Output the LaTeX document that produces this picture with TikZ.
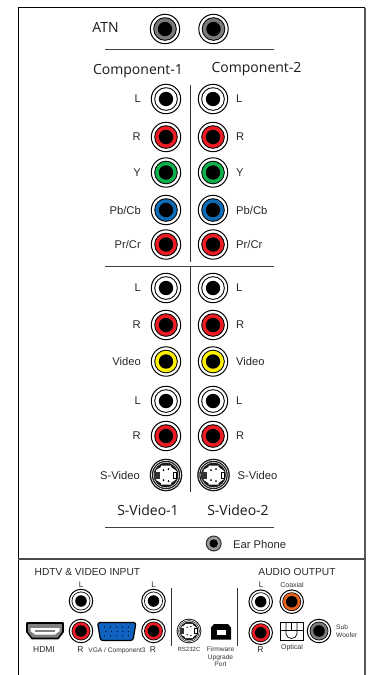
\documentclass[tikz,border=0pt]{standalone}
\usepackage{fontspec}
\setmainfont{Liberation Sans}
\newfontfamily\myr{Open Sans}
\definecolor{jred}{HTML}{ED1C24}
\definecolor{jgreen}{HTML}{0DB14B}
\definecolor{jblue}{HTML}{0F6DB8}
\definecolor{jyellow}{HTML}{FFF200}
\definecolor{jorange}{HTML}{E8601C}
\definecolor{jgray}{HTML}{7A7A7A}
\definecolor{vgablue}{HTML}{0F62C0}
\tikzset{
  lab/.style={font=\fontsize{11.2}{11.2}\selectfont,inner sep=0pt,text=black!85},
  title/.style={font=\myr\fontsize{14}{14}\selectfont,inner sep=0pt,text=black!90},
  head/.style={font=\fontsize{10.2}{10.2}\selectfont,inner sep=0pt,text=black!85},
  tiny/.style={font=\fontsize{6.6}{7.2}\selectfont,inner sep=0pt,text=black!80,align=center},
  rulem/.style={line width=0.9pt,black!75},
}
% x, y, ring colour, scale
\newcommand\jack[4]{%
  \begin{scope}[shift={(#1,#2)},scale=#4]
    \filldraw[fill=white,draw=black,line width=1pt] (0,0) circle (14.7);
    \fill[black] (0,0) circle (11.8);
    \fill[#3] (0,0) circle (10.8);
    \fill[black] (0,0) circle (7.2);
  \end{scope}}
% x, y, flip, scale
\newcommand\svideo[4]{%
  \begin{scope}[shift={(#1,#2)},xscale=#3*#4,yscale=#4]
    \fill[black!90] (0,0) circle (16.3);
    \draw[white,line width=0.6pt] (0,0) circle (14.6);
    \draw[white,line width=0.5pt] (0,0) circle (12.8);
    \fill[white] (-5,9.5) -- (5,9.5) -- (5,8) -- (10.5,4) -- (10.5,-4) -- (5,-8) -- (5,-9.5) -- (-5,-9.5) -- (-5,-8) -- (-10,-5) -- (-10,5) -- (-5,8) -- cycle;
    \fill[black!80] (-12.5,-3.5) rectangle (-6.5,3.5);
    \draw[black,line width=0.6pt,fill=white] (7.5,-3) rectangle (10.5,3);
    \fill[black] (-2.5,5) circle (1) (2.5,6) circle (1) (-2.5,-5) circle (1) (2.5,-6) circle (1);
  \end{scope}}
\begin{document}
\begin{tikzpicture}[x=1pt,y=-1pt]
\useasboundingbox (0,0) rectangle (368,675);
% frame
\draw[line width=1.6pt,black] (18.5,675) -- (18.5,7.5) -- (365,7.5);
\draw[line width=2.2pt,black!65] (365,7.5) -- (365,675);
\draw[line width=2.6pt,black!70] (18,559) -- (366,559);
% rules
\draw[rulem] (105,49) -- (274,49);
\draw[rulem] (105,266) -- (274,266);
\draw[rulem] (105,527) -- (274,527);
\draw[line width=0.9pt,black!80] (190.7,85) -- (190.7,262);
\draw[line width=0.9pt,black!80] (190.7,267) -- (190.7,492);
\draw[line width=0.9pt,black!80] (171,588) -- (171,646);
\draw[line width=0.9pt,black!80] (237.7,588) -- (237.7,646);
% titles
\node[title] (atn) at (105.5,27.5) {ATN};
\node[title] (c1) at (138,71) {Component-1};
\node[title] (c2) at (256.5,69.5) {Component-2};
\node[title] (s1) at (148,510) {S-Video-1};
\node[title] (s2) at (238,510) {S-Video-2};
% ATN
\jack{165}{29}{jgray}{1}
\jack{213.5}{29}{jgray}{1}
% rows
\foreach \yy/\cc/\tt in {99/white/L,137/jred/R,172.5/jgreen/Y,210/jblue/Pb\slash Cb,244.5/jred/Pr\slash Cr,288/white/L,325/jred/R,361.5/jyellow/Video,401/white/L,436/jred/R}{
  \jack{166}{\yy}{\cc}{1}
  \jack{213}{\yy}{\cc}{1}
  \node[lab,anchor=east] at (141,\yy) {\tt};
  \node[lab,anchor=west] at (236,\yy) {\tt};
}
\svideo{166}{475}{1}{1}
\svideo{213.5}{475}{1}{1}
\node[lab,anchor=east] (svl) at (140,475) {S-Video};
\node[lab,anchor=west] (svr) at (237.5,475) {S-Video};
% ear phone
\begin{scope}[shift={(213.7,543.5)}]
  \fill[black!80] (0,0) circle (8);
  \fill[black!40] (0,0) circle (6.8);
  \fill[black] (0,0) circle (4.2);
\end{scope}
\node[lab,anchor=west] (ear) at (233,544) {Ear Phone};
% bottom headings
\node[head,anchor=west] (hd) at (34.5,572) {HDTV \& VIDEO INPUT};
\node[head] (ao) at (297,572) {AUDIO OUTPUT};
% inputs
\node[lab,font=\fontsize{8}{8}\selectfont] (l1) at (81,585) {L};
\node[lab,font=\fontsize{8}{8}\selectfont] (l2) at (153.5,585) {L};
\jack{81}{601}{white}{0.8}
\jack{153.5}{601}{white}{0.8}
\jack{81}{631}{jred}{0.8}
\jack{153.5}{631}{jred}{0.8}
\node[lab,font=\fontsize{8.5}{8.5}\selectfont] (hdmi) at (44,650) {HDMI};
\node[lab,font=\fontsize{8.5}{8.5}\selectfont] (r1) at (80.5,650) {R};
\node[lab,font=\fontsize{8.5}{8.5}\selectfont] (r2) at (153,650) {R};
\node[tiny] (vga) at (117,651) {VGA / Component3};
% HDMI connector
\filldraw[fill=black!50,draw=black,line width=1.6pt,line join=round] (27,623) -- (63,623) -- (63,632) -- (58,638.5) -- (32,638.5) -- (27,632) -- cycle;
\fill[white] (30.5,628) -- (59.5,628) -- (59.5,631) -- (55,634.5) -- (35,634.5) -- (30.5,631) -- cycle;
\fill[black!50] (35,629.5) rectangle (55,631.5);
% VGA connector
\filldraw[fill=vgablue,draw=black,line width=1.2pt,rounded corners=2.5pt] (97.5,622.5) -- (136,622.5) -- (133,640.5) -- (100.5,640.5) -- cycle;
\foreach \i in {0,...,4}{\fill[black] (104.5+\i*6,627) circle (.6); \fill[black] (104.5+\i*6,636) circle (.6);\fill[black] (106+\i*5.6,631.5) circle (.6);}
% RS232C
\svideo{189}{631}{1}{0.76}
\node[tiny,font=\fontsize{6}{6}\selectfont] (rs) at (189,649.5) {RS232C};
% USB
\fill[black] (214,624) -- (228,624) -- (231,627.5) -- (231,639.5) -- (211,639.5) -- (211,627.5) -- cycle;
\fill[white] (216.5,629.5) rectangle (225.5,634.5);
\node[tiny,anchor=north,font=\fontsize{6.6}{7.2}\selectfont] (fw) at (220.5,647) {Firmware\\Upgrade\\Port};
% audio
\node[lab,font=\fontsize{8}{8}\selectfont] (l3) at (261,585) {L};
\node[tiny,font=\fontsize{7}{7}\selectfont] (coax) at (292,585) {Coaxial};
\jack{260.7}{601.7}{white}{0.8}
\jack{291.7}{601.7}{jorange}{0.8}
\jack{260.7}{632.7}{jred}{0.8}
\node[lab,font=\fontsize{8.5}{8.5}\selectfont] (r3) at (260.5,650) {R};
\node[tiny,font=\fontsize{7}{7}\selectfont] (opt) at (292,648) {Optical};
% optical
\draw[black,line width=1pt] (280,622) rectangle (303,640.5);
\draw[black,line width=0.7pt] (286,622) -- (286,634) .. controls (287,640) and (296,640) .. (297,634) -- (297,622) (291.5,622) -- (291.5,630.5);
\draw[black,line width=1.3pt] (280.5,630.5) -- (302.5,630.5);
% subwoofer
\jack{319}{631}{jgray}{0.8}
\node[tiny,anchor=west,align=left,font=\fontsize{6.6}{8}\selectfont] (sw) at (336,631) {Sub\\Woofer};
\end{tikzpicture}
\end{document}
